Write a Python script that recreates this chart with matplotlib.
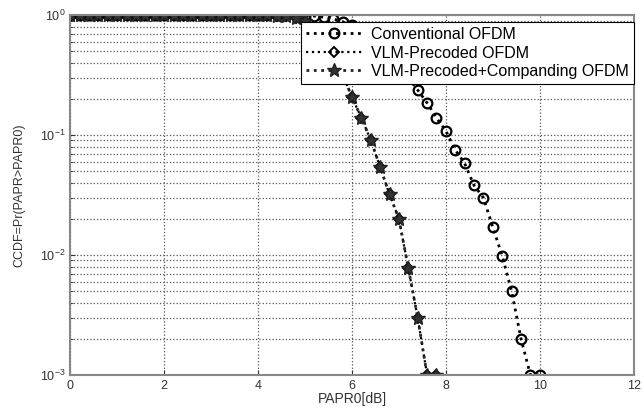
import matplotlib
matplotlib.use('Agg')
import matplotlib.pyplot as plt

plt.rcParams['font.family'] = ['Liberation Sans', 'DejaVu Sans']

# PAPR0 grid [dB]
papr0 = [0.0, 0.2, 0.4, 0.6, 0.8, 1.0, 1.2, 1.4, 1.6, 1.8,
         2.0, 2.2, 2.4, 2.6, 2.8, 3.0, 3.2, 3.4, 3.6, 3.8,
         4.0, 4.2, 4.4, 4.6, 4.8, 5.0, 5.2, 5.4, 5.6, 5.8,
         6.0, 6.2, 6.4, 6.6, 6.8, 7.0, 7.2, 7.4, 7.6, 7.8,
         8.0, 8.2, 8.4, 8.6, 8.8, 9.0, 9.2, 9.4, 9.6, 9.8, 10.0]

ccdf_conv = [1.0] * 25 + [0.99, 0.98, 0.96, 0.93, 0.88,
                          0.82, 0.74, 0.65, 0.56, 0.46,
                          0.37, 0.30, 0.237, 0.185, 0.139,
                          0.108, 0.075, 0.058, 0.038, 0.030,
                          0.017, 0.0098, 0.005, 0.002, 0.001, 0.001]

ccdf_vlm = [1.0] * 22 + [0.99, 0.98, 0.95, 0.89, 0.78, 0.63, 0.47, 0.32,
                         0.207, 0.139, 0.091, 0.054, 0.032, 0.020,
                         0.0078, 0.0030, 0.001, 0.001]

ccdf_comp = list(ccdf_vlm)

labels = ['Conventional OFDM', 'VLM-Precoded OFDM',
          'VLM-Precoded+Companding OFDM']

fig = plt.figure(figsize=(6.44, 4.17), dpi=100)
ax = fig.add_axes([0.109, 0.101, 0.875, 0.863])

ax.semilogy(papr0[:len(ccdf_conv)], ccdf_conv, ':', color='black', lw=2.0,
            marker='o', ms=7, mfc='none', mec='black', mew=1.6, label=labels[0])
ax.semilogy(papr0[:len(ccdf_vlm)], ccdf_vlm, ':', color='black', lw=1.6,
            marker='D', ms=5.5, mfc='none', mec='black', mew=1.4, label=labels[1])
ax.semilogy(papr0[:len(ccdf_comp)], ccdf_comp, ':', color='#222222', lw=2.0,
            marker='*', ms=10, mfc='#333333', mec='#222222', mew=1.0, label=labels[2])

ax.set_xlim(0, 12)
ax.set_ylim(1e-3, 1)
ax.set_xticks([0, 2, 4, 6, 8, 10, 12])
ax.grid(True, which='major', ls=':', color='#555555', lw=0.9)
ax.grid(True, which='minor', axis='y', ls=':', color='#555555', lw=0.9)
ax.tick_params(direction='in', which='both', labelsize=9, colors='#333333')
for s in ax.spines.values():
    s.set_color('#888888')
    s.set_linewidth(1.5)

ax.set_xlabel('PAPR0[dB]', fontsize=10, color='#333333', labelpad=0)
ax.set_ylabel('CCDF=Pr(PAPR>PAPR0)', fontsize=9, color='#333333', labelpad=10)

leg = ax.legend(loc='upper right', bbox_to_anchor=(1.0, 0.98), fontsize=11.5,
                fancybox=False, framealpha=1, edgecolor='black',
                borderpad=0.3, labelspacing=0.22, handlelength=3.6,
                handletextpad=0.5, borderaxespad=0)
leg.get_frame().set_linewidth(0.8)

fig.savefig('out.png', dpi=100)
